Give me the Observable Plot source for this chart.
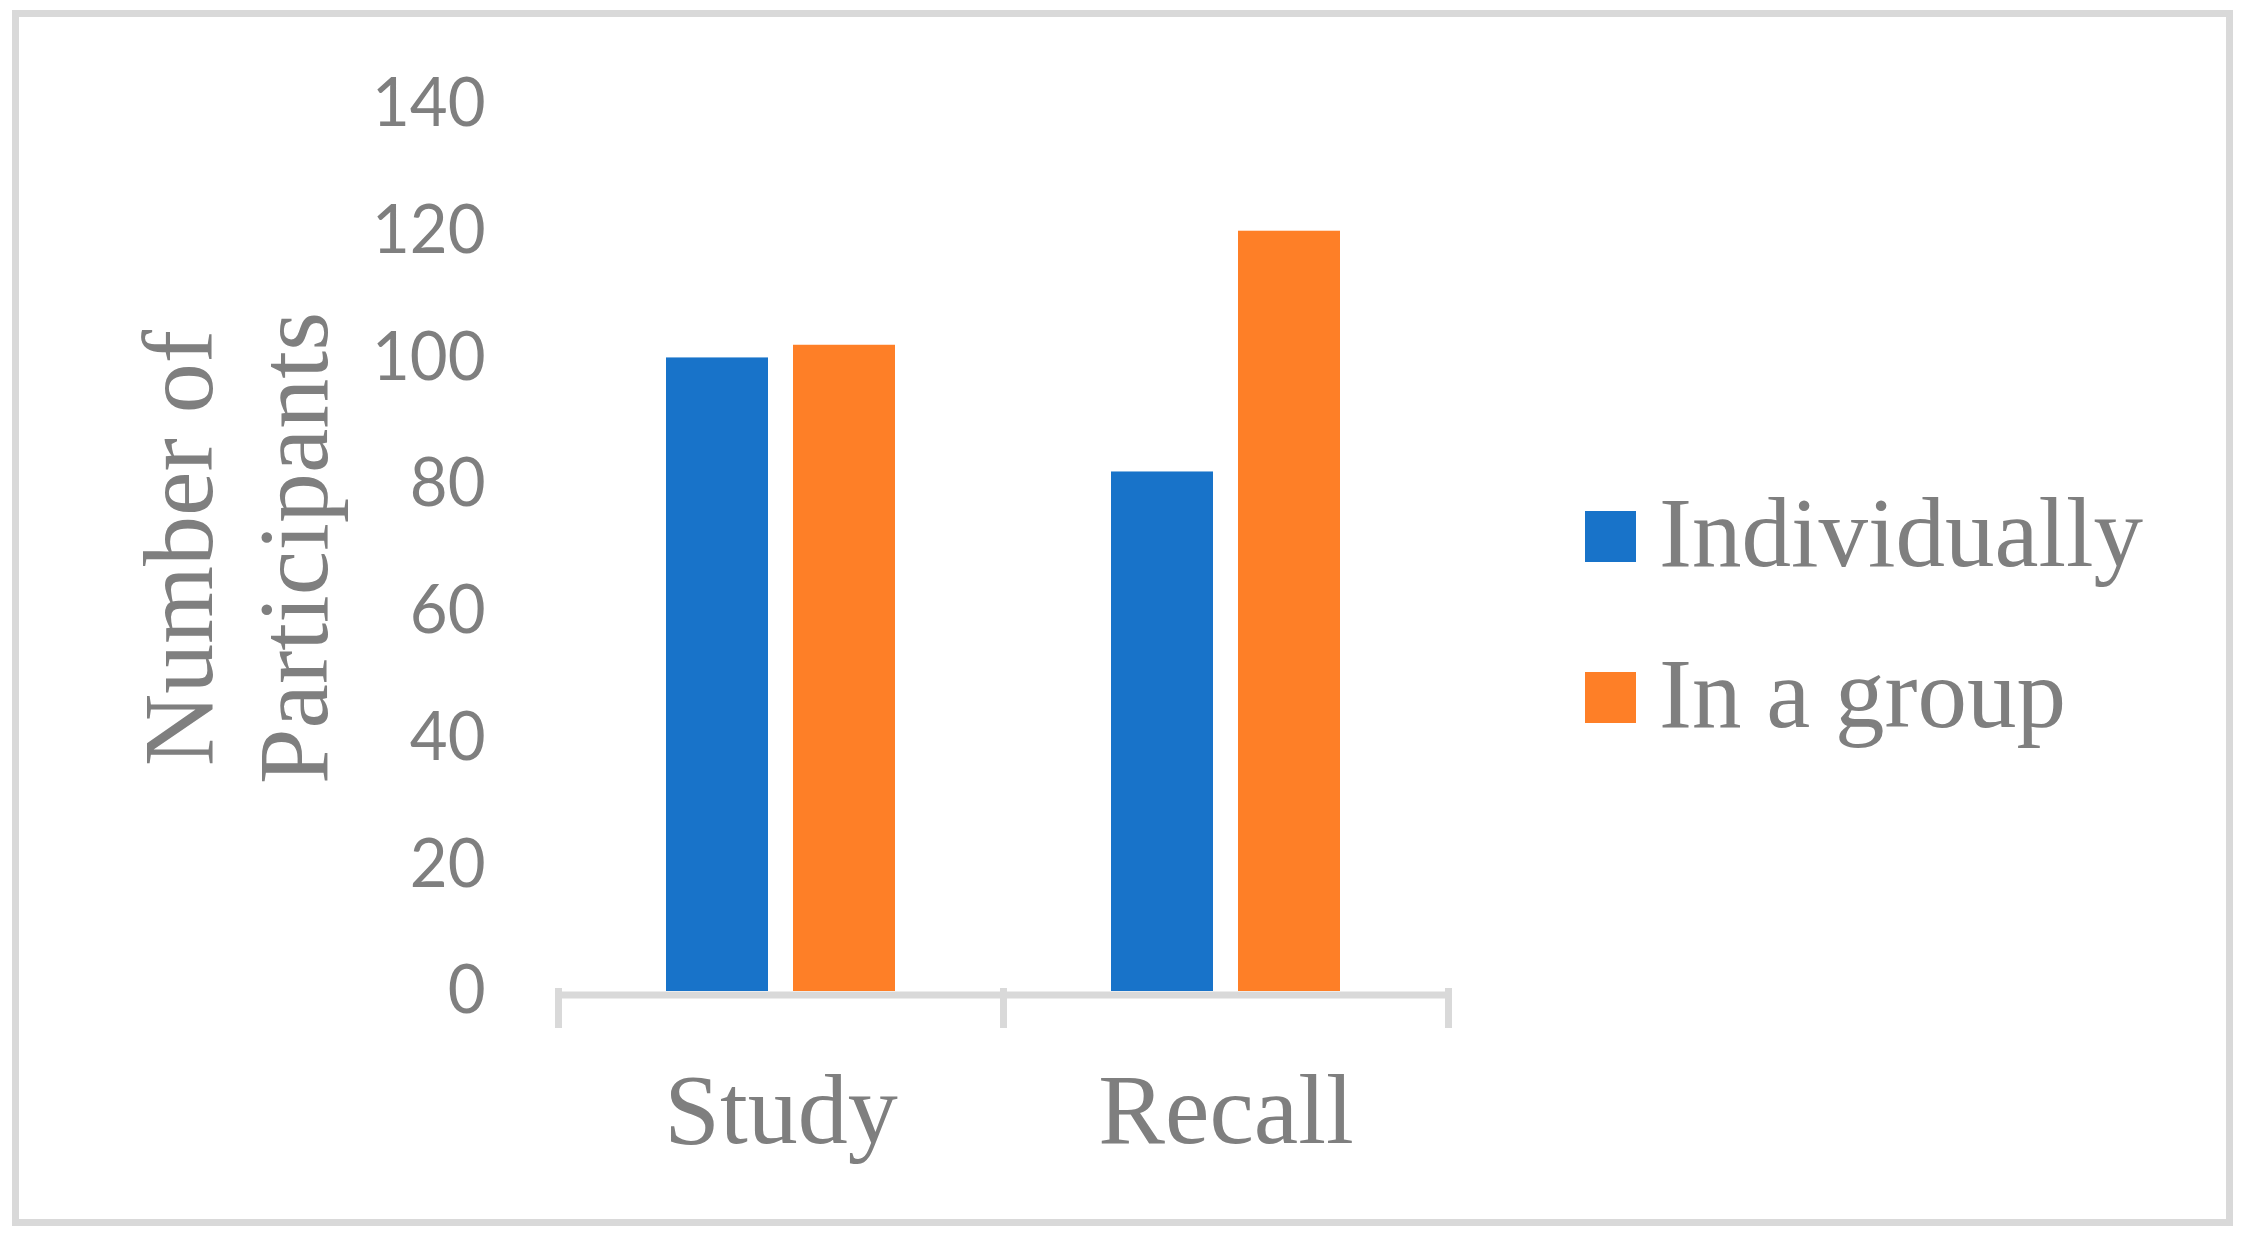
<!DOCTYPE html>
<html>
<head>
<meta charset="utf-8">
<script src="https://cdn.jsdelivr.net/npm/d3@7"></script>
<script src="https://cdn.jsdelivr.net/npm/@observablehq/plot@0.6"></script>
<style>
  html, body { margin: 0; padding: 0; background: #fff; overflow: hidden; width: 2253px; height: 1241px; }
  #chart { position: absolute; left: 0; top: 0; }
  #chart svg { background: transparent !important; max-width: none !important; }
  #border { position: absolute; left: 12px; top: 10px; width: 2221px; height: 1216px; border: 7px solid #d9d9d9; box-sizing: border-box; pointer-events: none; z-index: 5; }
  #ytitle { position: absolute; left: -64px; top: 433px; width: 600px; height: 230px; transform: rotate(-90deg);
            font-family: "Liberation Serif", serif; font-size: 100px; line-height: 115px; text-align: center; color: #7f7f7f; white-space: nowrap; }
  .sw { position: absolute; left: 1585px; width: 51px; height: 51px; }
  .lt { position: absolute; left: 1659px; font-family: "Liberation Serif", serif; font-size: 99px; line-height: 100px; color: #7f7f7f; white-space: nowrap; }
</style>
</head>
<body>
<div id="chart"></div>
<div id="ytitle">Number of<br>Participants</div>
<div id="legend"></div>
<div id="border"></div>
<script>
// ---- data ----
const categories = ["Study", "Recall"];
const series = ["Individually", "In a group"];
const individually = [100, 82];
const inAGroup = [102, 120];
const yTicks = [0, 20, 40, 60, 80, 100, 120, 140];
const colors = ["#1873C9", "#FE7F27"];

const axisGray = "#d9d9d9";
const textGray = "#7f7f7f";

const data = categories.flatMap((c, i) => [
  {category: c, series: series[0], value: individually[i]},
  {category: c, series: series[1], value: inAGroup[i]}
]);

const chart = Plot.plot({
  width: 2253,
  height: 1241,
  marginLeft: 557,
  marginRight: 805,
  marginTop: 104,
  marginBottom: 250,
  facet: {marginTop: 0, marginRight: 0, marginBottom: 0, marginLeft: 0},
  fx: {domain: categories, padding: 0, label: null},
  x: {domain: series, paddingInner: 0.2, paddingOuter: 0.85, axis: null},
  y: {domain: [0, 140], label: null},
  color: {domain: series, range: colors},
  style: {background: "transparent"},
  marks: [
    Plot.barY(data, {fx: "category", x: "series", y: "value", fill: "series"}),
    Plot.ruleY([0], {stroke: axisGray, strokeWidth: 7, dy: 3.5}),
    Plot.frame({anchor: "left", stroke: axisGray, strokeWidth: 7, insetTop: 887, insetBottom: -33}),
    Plot.frame({anchor: "right", stroke: axisGray, strokeWidth: 7, insetTop: 887, insetBottom: -33}),
    Plot.axisY({ticks: yTicks, tickSize: 0, tickPadding: 73, fontSize: 68, fontFamily: "Lato", fill: textGray, label: null}),
    Plot.axisFx({anchor: "bottom", tickSize: 0, tickPadding: 80, fontSize: 100, fontFamily: "Liberation Serif", fill: textGray, label: null})
  ]
});
document.getElementById("chart").appendChild(chart);

// horizontally condense the y tick labels (narrow digits as in the reference)
function squeeze(root, selector, k) {
  root.querySelectorAll(selector).forEach(el => {
    const t = el.getAttribute("transform");
    if (t) {
      el.setAttribute("transform", t + ` scale(${k},1)`);
    } else {
      const x = +el.getAttribute("x") || 0;
      el.removeAttribute("x");
      el.setAttribute("transform", `translate(${x},0) scale(${k},1)`);
    }
  });
}
squeeze(chart, 'g[aria-label="y-axis tick label"] text', 0.96);

// legend
const legend = document.getElementById("legend");
series.forEach((s, i) => {
  const sw = document.createElement("div");
  sw.className = "sw";
  sw.style.top = (511 + 161 * i) + "px";
  sw.style.background = chart.scale("color").apply(s);
  legend.appendChild(sw);
  const t = document.createElement("div");
  t.className = "lt";
  t.style.top = (483 + 161 * i) + "px";
  t.textContent = s;
  legend.appendChild(t);
});
</script>
</body>
</html>
